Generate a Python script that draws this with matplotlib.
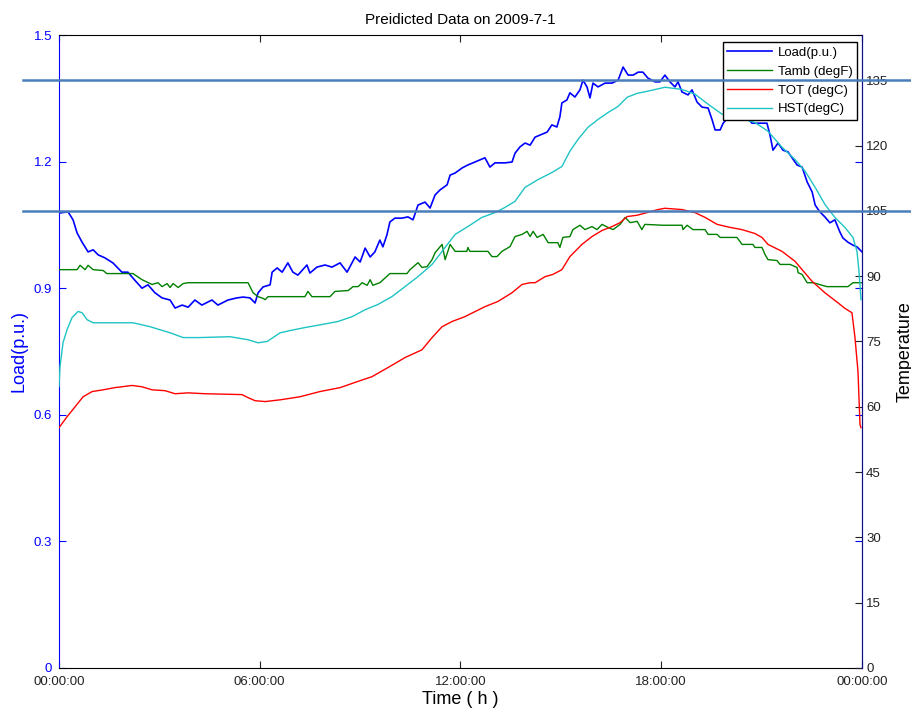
import matplotlib
matplotlib.use('Agg')
import matplotlib.pyplot as plt

plt.rcParams['font.family'] = ['Liberation Sans', 'DejaVu Sans']

# load, p.u. (left axis)
load_h = [0.00, 0.27, 0.42, 0.54, 0.69, 0.87, 1.02, 1.17, 1.37, 1.61, 1.88, 2.06, 2.21, 2.48, 2.66,
          2.87, 3.08, 3.32, 3.47, 3.68, 3.86, 4.06, 4.27, 4.57, 4.75, 5.05, 5.32, 5.50, 5.71, 5.86,
          5.95, 6.10, 6.31, 6.37, 6.52, 6.67, 6.84, 6.99, 7.14, 7.41, 7.50, 7.71, 7.95, 8.16, 8.40,
          8.61, 8.85, 9.00, 9.15, 9.30, 9.44, 9.59, 9.68, 9.80, 9.89, 10.04, 10.25, 10.43, 10.58,
          10.73, 10.94, 11.09, 11.24, 11.39, 11.60, 11.69, 11.84, 12.05, 12.22, 12.43, 12.73, 12.88,
          13.03, 13.33, 13.54, 13.63, 13.78, 13.93, 14.08, 14.23, 14.38, 14.59, 14.73, 14.88, 14.97,
          15.03, 15.18, 15.27, 15.42, 15.57, 15.66, 15.78, 15.87, 15.96, 16.11, 16.32, 16.53, 16.71,
          16.86, 17.01, 17.16, 17.31, 17.45, 17.60, 17.81, 17.96, 18.11, 18.26, 18.41, 18.50, 18.62,
          18.80, 18.92, 19.07, 19.22, 19.40, 19.52, 19.61, 19.76, 19.85, 20.06, 20.35, 20.59, 20.71,
          21.16, 21.25, 21.34, 21.49, 21.64, 21.79, 21.91, 22.06, 22.21, 22.36, 22.51, 22.60, 22.74,
          22.89, 23.04, 23.19, 23.34, 23.43, 23.58, 23.73, 23.85, 24.00]
load_pu = [1.078, 1.081, 1.062, 1.031, 1.009, 0.986, 0.991, 0.979, 0.972, 0.960, 0.938, 0.938, 0.924,
           0.900, 0.908, 0.889, 0.877, 0.872, 0.853, 0.860, 0.855, 0.872, 0.860, 0.872, 0.860, 0.872,
           0.877, 0.879, 0.877, 0.865, 0.889, 0.903, 0.908, 0.938, 0.948, 0.938, 0.960, 0.938, 0.931,
           0.955, 0.936, 0.950, 0.955, 0.950, 0.960, 0.938, 0.974, 0.962, 0.995, 0.974, 0.986, 1.014,
           0.998, 1.026, 1.057, 1.066, 1.066, 1.069, 1.062, 1.097, 1.104, 1.090, 1.121, 1.133, 1.145,
           1.168, 1.173, 1.185, 1.192, 1.199, 1.209, 1.187, 1.197, 1.197, 1.199, 1.220, 1.235, 1.244,
           1.239, 1.258, 1.263, 1.270, 1.287, 1.282, 1.306, 1.339, 1.346, 1.363, 1.353, 1.370, 1.393,
           1.377, 1.351, 1.386, 1.377, 1.386, 1.386, 1.393, 1.424, 1.405, 1.405, 1.412, 1.412, 1.398,
           1.389, 1.389, 1.405, 1.389, 1.377, 1.389, 1.365, 1.358, 1.370, 1.341, 1.329, 1.327, 1.299,
           1.275, 1.275, 1.291, 1.310, 1.318, 1.303, 1.291, 1.291, 1.263, 1.227, 1.244, 1.227, 1.223,
           1.209, 1.192, 1.187, 1.152, 1.128, 1.097, 1.081, 1.069, 1.055, 1.062, 1.033, 1.019, 1.009,
           1.002, 0.998, 0.986]

# ambient temperature, degF (right axis)
tamb_h = [0.00, 0.54, 0.63, 0.78, 0.87, 1.02, 1.32, 1.43, 2.21, 2.48, 2.78, 2.96, 3.08, 3.23, 3.32,
          3.41, 3.56, 3.71, 3.86, 5.65, 5.80, 5.95, 6.10, 6.16, 6.25, 7.35, 7.44, 7.56, 8.10, 8.25,
          8.64, 8.79, 8.94, 9.06, 9.21, 9.30, 9.38, 9.59, 9.89, 10.40, 10.49, 10.73, 10.85, 11.00,
          11.15, 11.24, 11.45, 11.54, 11.69, 11.84, 12.19, 12.22, 12.28, 12.82, 12.94, 13.09, 13.24,
          13.48, 13.63, 13.84, 13.99, 14.08, 14.17, 14.29, 14.47, 14.62, 14.91, 14.97, 15.06, 15.27,
          15.36, 15.57, 15.72, 15.93, 16.08, 16.23, 16.41, 16.56, 16.77, 16.92, 17.07, 17.28, 17.42,
          17.51, 18.05, 18.62, 18.65, 18.77, 18.95, 19.31, 19.40, 19.67, 19.76, 20.26, 20.35, 20.41,
          20.74, 20.80, 21.01, 21.10, 21.19, 21.46, 21.55, 21.85, 22.06, 22.09, 22.21, 22.36, 22.54,
          22.95, 23.58, 23.73, 24.00]
tamb = [91.5, 91.5, 92.5, 91.5, 92.5, 91.5, 91.3, 90.6, 90.6, 89.2, 88.1, 88.5, 87.6, 88.3, 87.4,
        88.3, 87.4, 88.3, 88.5, 88.5, 86.2, 85.3, 84.9, 84.6, 85.3, 85.3, 86.5, 85.3, 85.3, 86.5,
        86.7, 87.6, 87.6, 88.5, 87.9, 89.2, 87.9, 88.5, 90.6, 90.6, 91.5, 93.1, 92.0, 92.2,
        93.8, 95.4, 97.3, 93.8, 97.3, 95.7, 95.7, 96.6, 95.7, 95.7, 94.5, 94.5, 95.7,
        96.8, 99.1, 99.6, 100.3, 99.1, 100.3, 98.9, 99.6, 97.7, 97.7, 96.6, 98.9, 99.1,
        100.7, 101.7, 100.7, 101.4, 100.7, 101.9, 101.2, 100.7, 101.9, 103.5, 102.3, 102.6, 100.7,
        101.9, 101.7, 101.7, 100.7, 101.7, 100.7, 100.7, 99.6, 99.6, 98.9, 98.9, 98.0, 97.3,
        97.3, 96.6, 96.6, 95.0, 93.8, 93.6, 92.7, 92.7, 92.0, 90.8, 90.4, 88.5, 88.5,
        87.6, 87.6, 88.5, 88.5]

# top-oil temperature, degC
tot_h = [0.00, 0.24, 0.48, 0.72, 0.99, 1.32, 1.67, 1.88, 2.18, 2.48, 2.78, 3.17, 3.47, 3.86, 4.36,
         5.47, 5.65, 5.86, 6.16, 6.61, 7.20, 7.80, 8.40, 9.00, 9.35, 9.83, 10.34, 10.85, 11.15,
         11.45, 11.75, 12.13, 12.73, 13.12, 13.54, 13.84, 14.08, 14.23, 14.53, 14.76, 15.03, 15.27,
         15.63, 15.93, 16.23, 16.53, 16.77, 16.98, 17.28, 17.57, 17.90, 18.11, 18.62, 19.01, 19.31,
         19.67, 20.06, 20.41, 20.80, 21.01, 21.19, 21.61, 22.00, 22.21, 22.51, 22.89, 23.28, 23.49,
         23.70, 23.79, 23.88, 23.94, 23.97]
tot = [55.2, 57.7, 60.0, 62.3, 63.5, 63.9, 64.4, 64.6, 64.9, 64.6, 63.9, 63.7, 63.0, 63.2, 63.0,
       62.8, 62.1, 61.4, 61.2, 61.6, 62.3, 63.5, 64.4, 66.0, 66.9, 69.0, 71.3, 73.1, 75.9,
       78.4, 79.6, 80.7, 83.0, 84.2, 86.2, 88.1, 88.5, 88.5, 89.9, 90.4, 91.5, 94.5,
       97.3, 99.1, 100.5, 101.4, 102.3, 103.7, 104.0, 104.6, 105.3, 105.6, 105.3, 104.6, 103.5,
       101.9, 101.2, 100.7, 99.8, 98.9, 97.3, 95.7, 93.4, 91.5, 88.8, 86.2, 83.9, 82.6,
       81.6, 75.9, 68.1, 55.9, 55.2]

# hot-spot temperature, degC
hst_h = [0.00, 0.03, 0.12, 0.24, 0.39, 0.57, 0.69, 0.84, 1.02, 2.03, 2.21, 2.72, 3.32, 3.71, 4.21,
         5.11, 5.65, 5.95, 6.22, 6.61, 6.90, 7.35, 7.86, 8.34, 8.76, 9.15, 9.53, 9.95, 10.34, 10.73,
         11.15, 11.54, 11.84, 12.22, 12.64, 13.03, 13.33, 13.63, 13.93, 14.32, 14.73, 15.03, 15.27,
         15.51, 15.81, 16.11, 16.41, 16.71, 16.98, 17.28, 17.60, 18.11, 18.62, 19.01, 19.40, 19.82,
         20.20, 20.50, 20.80, 21.19, 21.61, 22.00, 22.30, 22.60, 22.89, 23.19, 23.49, 23.73, 23.85,
         23.91, 23.97]
hst = [64.6, 69.2, 74.7, 77.7, 80.5, 81.9, 81.6, 80.0, 79.3, 79.3, 79.3, 78.4, 77.0, 75.9, 75.9,
       76.1, 75.4, 74.7, 75.0, 77.0, 77.5, 78.2, 78.9, 79.6, 80.7, 82.3, 83.5, 85.3, 87.6, 89.9,
       92.7, 96.6, 99.6, 101.4, 103.5, 104.6, 105.8, 107.2, 110.4, 112.2, 113.8, 115.2, 118.7,
       121.4, 124.2, 126.0, 127.6, 129.0, 131.1, 132.0, 132.5, 133.4, 132.9, 131.8, 129.5, 127.2,
       126.5, 126.0, 125.3, 123.3, 119.6, 116.8, 114.1, 110.4, 106.5, 103.5, 101.2, 98.9, 95.7,
       91.1, 84.6]

limits = [135, 105]

x_ticks = [0, 6, 12, 18, 24]
x_labels = ['00:00:00', '06:00:00', '12:00:00', '18:00:00', '00:00:00']
load_ticks = [0, 0.3, 0.6, 0.9, 1.2, 1.5]
load_labels = ['0', '0.3', '0.6', '0.9', '1.2', '1.5']
temp_ticks = [0, 15, 30, 45, 60, 75, 90, 105, 120, 135]

fig = plt.figure(figsize=(9.12, 7.15), dpi=100)
ax1 = fig.add_axes([59/912, 47/715, 803/912, 633/715])
ax2 = ax1.twinx()

l1, = ax1.plot(load_h, load_pu, color='blue', lw=1.2, label='Load(p.u.)')
l2, = ax2.plot(tamb_h, tamb, color='green', lw=1.0, label='Tamb (degF)')
l3, = ax2.plot(tot_h, tot, color='red', lw=1.0, label='TOT (degC)')
l4, = ax2.plot(hst_h, hst, color='#1fc4c4', lw=1.0, label='HST(degC)')

ax1.set_xlim(0, 24)
ax1.set_ylim(0, 1.5)
ax2.set_ylim(0, 145.4)

ax1.set_xticks(x_ticks)
ax1.set_xticklabels(x_labels, fontsize=9.5)
ax1.set_yticks(load_ticks)
ax1.set_yticklabels(load_labels, fontsize=9.5)
ax2.set_yticks(temp_ticks)
ax2.set_yticklabels([str(t) for t in temp_ticks], fontsize=9.5)

ax1.tick_params(axis='x', direction='in', length=5, top=True, pad=6, colors='#222222')
ax1.tick_params(axis='y', direction='in', length=5, left=True, right=True, colors='blue', pad=5)
ax2.tick_params(axis='y', direction='in', length=5, colors='#222222', pad=3)

ax1.spines['left'].set_color('blue')
ax1.spines['right'].set_color('blue')
for s in ['left', 'top', 'bottom']:
    ax2.spines[s].set_visible(False)
ax2.spines['right'].set_color('#101080')

ax1.set_ylabel('Load(p.u.)', color='blue', fontsize=13, labelpad=4)
ax2.set_ylabel('Temperature', fontsize=13, labelpad=6)
ax1.set_xlabel('Time ( h )', fontsize=13, labelpad=2)
ax1.set_title('Preidicted Data on 2009-7-1', fontsize=11, pad=8)

leg = ax2.legend(handles=[l1, l2, l3, l4], loc='upper right',
                 bbox_to_anchor=(857/912, 1 - 42/715), bbox_transform=fig.transFigure,
                 borderaxespad=0, fancybox=False, framealpha=1, edgecolor='black',
                 fontsize=9.5, handlelength=3.4, labelspacing=0.5, handletextpad=0.4,
                 borderpad=0.35)
leg.get_frame().set_linewidth(1.0)

for v in limits:
    ax2.axhline(v, xmin=-0.045, xmax=1.07, color='#4a7ebb', lw=1.8, clip_on=False, zorder=10)

fig.savefig('out.png', dpi=100)
